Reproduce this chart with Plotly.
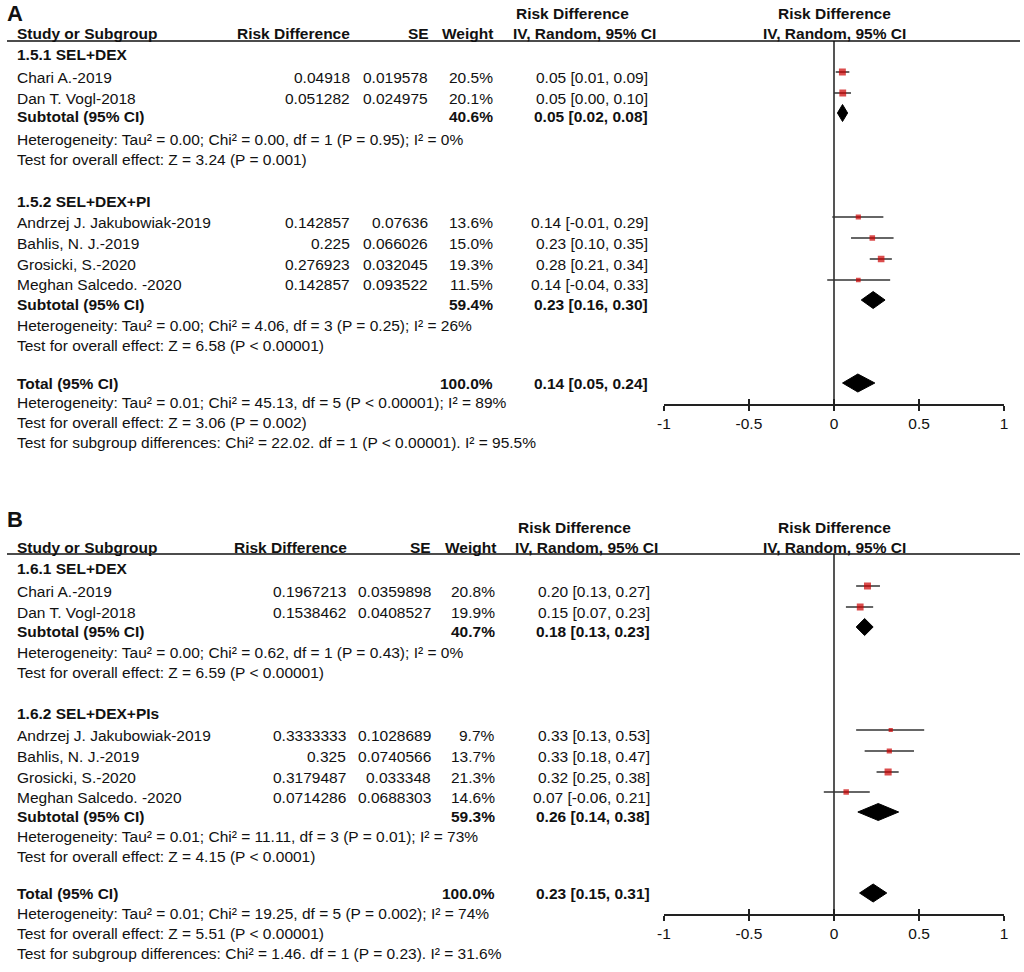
import plotly.graph_objects as go

W, H = 1024, 972
FONT = "Liberation Sans, Arial, sans-serif"
FS = 15.5
TXT = "#111111"
RED = "#cc0000"
WHISK = "#333333"

# ---------------- Panel A data ----------------
A_label = "A"
A_groups = ["1.5.1 SEL+DEX", "1.5.2 SEL+DEX+PI"]
A_group_n = [2, 4]
A_studies = ["Chari A.-2019", "Dan T. Vogl-2018", "Andrzej J. Jakubowiak-2019",
             "Bahlis, N. J.-2019", "Grosicki, S.-2020", "Meghan Salcedo. -2020"]
A_rd = [0.04918, 0.051282, 0.142857, 0.225, 0.276923, 0.142857]
A_se = [0.019578, 0.024975, 0.07636, 0.066026, 0.032045, 0.093522]
A_weight = [20.5, 20.1, 13.6, 15.0, 19.3, 11.5]
A_est = [0.05, 0.05, 0.14, 0.23, 0.28, 0.14]
A_lo = [0.01, 0.00, -0.01, 0.10, 0.21, -0.04]
A_hi = [0.09, 0.10, 0.29, 0.35, 0.34, 0.33]
A_sub_weight = [40.6, 59.4]
A_sub_est = [0.05, 0.23]
A_sub_lo = [0.02, 0.16]
A_sub_hi = [0.08, 0.30]
A_sub_het = ["Heterogeneity: Tau² = 0.00; Chi² = 0.00, df = 1 (P = 0.95); I² = 0%",
             "Heterogeneity: Tau² = 0.00; Chi² = 4.06, df = 3 (P = 0.25); I² = 26%"]
A_sub_z = ["Test for overall effect: Z = 3.24 (P = 0.001)",
           "Test for overall effect: Z = 6.58 (P &lt; 0.00001)"]
A_tot_weight = 100.0
A_tot = [0.14, 0.05, 0.24]
A_tot_het = "Heterogeneity: Tau² = 0.01; Chi² = 45.13, df = 5 (P &lt; 0.00001); I² = 89%"
A_tot_z = "Test for overall effect: Z = 3.06 (P = 0.002)"
A_subgroup = "Test for subgroup differences: Chi² = 22.02. df = 1 (P &lt; 0.00001). I² = 95.5%"

# ---------------- Panel B data ----------------
B_label = "B"
B_groups = ["1.6.1 SEL+DEX", "1.6.2 SEL+DEX+PIs"]
B_group_n = [2, 4]
B_studies = ["Chari A.-2019", "Dan T. Vogl-2018", "Andrzej J. Jakubowiak-2019",
             "Bahlis, N. J.-2019", "Grosicki, S.-2020", "Meghan Salcedo. -2020"]
B_rd = [0.1967213, 0.1538462, 0.3333333, 0.325, 0.3179487, 0.0714286]
B_se = [0.0359898, 0.0408527, 0.1028689, 0.0740566, 0.033348, 0.0688303]
B_weight = [20.8, 19.9, 9.7, 13.7, 21.3, 14.6]
B_est = [0.20, 0.15, 0.33, 0.33, 0.32, 0.07]
B_lo = [0.13, 0.07, 0.13, 0.18, 0.25, -0.06]
B_hi = [0.27, 0.23, 0.53, 0.47, 0.38, 0.21]
B_sub_weight = [40.7, 59.3]
B_sub_est = [0.18, 0.26]
B_sub_lo = [0.13, 0.14]
B_sub_hi = [0.23, 0.38]
B_sub_het = ["Heterogeneity: Tau² = 0.00; Chi² = 0.62, df = 1 (P = 0.43); I² = 0%",
             "Heterogeneity: Tau² = 0.01; Chi² = 11.11, df = 3 (P = 0.01); I² = 73%"]
B_sub_z = ["Test for overall effect: Z = 6.59 (P &lt; 0.00001)",
           "Test for overall effect: Z = 4.15 (P &lt; 0.0001)"]
B_tot_weight = 100.0
B_tot = [0.23, 0.15, 0.31]
B_tot_het = "Heterogeneity: Tau² = 0.01; Chi² = 19.25, df = 5 (P = 0.002); I² = 74%"
B_tot_z = "Test for overall effect: Z = 5.51 (P &lt; 0.00001)"
B_subgroup = "Test for subgroup differences: Chi² = 1.46. df = 1 (P = 0.23). I² = 31.6%"

# axis ticks
tick_vals = [-1, -0.5, 0, 0.5, 1]
tick_text = ["-1", "-0.5", "0", "0.5", "1"]

# header texts
hdr_cols = ["Study or Subgroup", "Risk Difference", "SE", "Weight", "IV, Random, 95% CI"]
hdr_top = "Risk Difference"

# ---------------- layout (pixel positions) ----------------
A_pos = dict(letter=(0, 13), hdr1_y=13, hdr2_y=33, rule_y=41, axis_y=404,
             name_x=10, rd_x=347, se_x=426, w_x=491, ci_x=648, hdr1_x=515, hdr2_x=511,
             hdr_rd_x=347, hdr_se_x=427, hdr_w_x=491, forest_c=836,
             group_y=[55, 201], study_y=[77, 98, 222, 243, 264, 285],
             sub_y=[117, 304], het_y=[139, 325], z_y=[159, 345],
             tot_y=383, tot_het_y=403, tot_z_y=423, subgroup_y=443)
B_pos = dict(letter=(0, 519), hdr1_y=527, hdr2_y=547, rule_y=554, axis_y=914,
             name_x=10, rd_x=343, se_x=429, w_x=493, ci_x=650, hdr1_x=517, hdr2_x=514,
             hdr_rd_x=344, hdr_se_x=429, hdr_w_x=494, forest_c=836,
             group_y=[568, 713], study_y=[591, 612, 735, 756, 777, 797],
             sub_y=[631, 816], het_y=[652, 836], z_y=[672, 856],
             tot_y=893, tot_het_y=913, tot_z_y=933, subgroup_y=953)

FX0, FX1 = 664, 1008   # pixel positions of -1 and 1

fig = go.Figure()


def tx(x, y, s, anchor="left", bold=False, size=FS):
    fig.add_annotation(x=x / W, y=1 - y / H, xref="paper", yref="paper",
                       text=f"<b>{s}</b>" if bold else s, showarrow=False,
                       xanchor=anchor, yanchor="middle", borderpad=0, borderwidth=0,
                       font=dict(family=FONT, size=size, color=TXT))


def ci_str(e, l, h):
    return f"{e:.2f} [{l:.2f}, {h:.2f}]"


def panel(P, label, groups, group_n, studies, rd, se, wt, est, lo, hi,
          sw, se_, sl, sh, shet, sz, tw, tot, thet, tz, tsub, xa, ya):
    # panel letter
    tx(P["letter"][0], P["letter"][1], label, bold=True, size=22)
    # headers
    tx(P["hdr1_x"], P["hdr1_y"], hdr_top, bold=True)
    tx(P["forest_c"], P["hdr1_y"], hdr_top, anchor="center", bold=True)
    tx(P["name_x"], P["hdr2_y"], hdr_cols[0], bold=True)
    tx(P["hdr_rd_x"], P["hdr2_y"], hdr_cols[1], anchor="right", bold=True)
    tx(P["hdr_se_x"], P["hdr2_y"], hdr_cols[2], anchor="right", bold=True)
    tx(P["hdr_w_x"], P["hdr2_y"], hdr_cols[3], anchor="right", bold=True)
    tx(P["hdr2_x"], P["hdr2_y"], hdr_cols[4], bold=True)
    tx(P["forest_c"], P["hdr2_y"], hdr_cols[4], anchor="center", bold=True)
    fig.add_shape(type="line", xref="paper", yref="paper", x0=0, x1=1,
                  y0=1 - P["rule_y"] / H, y1=1 - P["rule_y"] / H,
                  line=dict(color="#111111", width=1.5))

    # study rows
    k = 0
    wy, wx, my, ms = [], [], [], []
    dx, dy = [], []
    for g, n in enumerate(group_n):
        tx(P["name_x"], P["group_y"][g], groups[g], bold=True)
        for j in range(n):
            y = P["study_y"][k]
            tx(P["name_x"], y, studies[k])
            tx(P["rd_x"], y, str(rd[k]), anchor="right")
            tx(P["se_x"], y, str(se[k]), anchor="right")
            tx(P["w_x"], y, f"{wt[k]:.1f}%", anchor="right")
            tx(P["ci_x"], y, ci_str(est[k], lo[k], hi[k]), anchor="right")
            yy = y - 5
            wx += [lo[k], hi[k], None]
            wy += [yy, yy, None]
            my.append(yy)
            ms.append(1.8 + 0.25 * wt[k])
            k += 1
        ys = P["sub_y"][g]
        tx(P["name_x"], ys, "Subtotal (95% CI)", bold=True)
        tx(P["w_x"], ys, f"{sw[g]:.1f}%", anchor="right", bold=True)
        tx(P["ci_x"], ys, ci_str(se_[g], sl[g], sh[g]), anchor="right", bold=True)
        tx(P["name_x"], P["het_y"][g], shet[g])
        tx(P["name_x"], P["z_y"][g], sz[g])
        yc = ys - 4
        dx += [sl[g], se_[g], sh[g], se_[g], sl[g], None]
        dy += [yc, yc - 8.5, yc, yc + 8.5, yc, None]

    # total
    yt = P["tot_y"]
    tx(P["name_x"], yt, "Total (95% CI)", bold=True)
    tx(P["w_x"], yt, f"{tw:.1f}%", anchor="right", bold=True)
    tx(P["ci_x"], yt, ci_str(*tot), anchor="right", bold=True)
    tx(P["name_x"], P["tot_het_y"], thet)
    tx(P["name_x"], P["tot_z_y"], tz)
    tx(P["name_x"], P["subgroup_y"], tsub)
    dx += [tot[1], tot[0], tot[2], tot[0], tot[1], None]
    dy += [yt, yt - 9, yt, yt + 9, yt, None]

    fig.add_trace(go.Scatter(x=wx, y=wy, mode="lines", xaxis=xa, yaxis=ya,
                             line=dict(color=WHISK, width=1.5), hoverinfo="skip",
                             showlegend=False))
    fig.add_trace(go.Scatter(x=rd, y=my, mode="markers", xaxis=xa, yaxis=ya,
                             marker=dict(symbol="square", color=RED, size=ms,
                                         line=dict(width=0)),
                             showlegend=False))
    fig.add_trace(go.Scatter(x=dx, y=dy, mode="lines", fill="toself", xaxis=xa, yaxis=ya,
                             fillcolor="#000000", line=dict(color="#000000", width=1),
                             showlegend=False, hoverinfo="skip"))


panel(A_pos, A_label, A_groups, A_group_n, A_studies, A_rd, A_se, A_weight, A_est, A_lo, A_hi,
      A_sub_weight, A_sub_est, A_sub_lo, A_sub_hi, A_sub_het, A_sub_z,
      A_tot_weight, A_tot, A_tot_het, A_tot_z, A_subgroup, "x", "y")
panel(B_pos, B_label, B_groups, B_group_n, B_studies, B_rd, B_se, B_weight, B_est, B_lo, B_hi,
      B_sub_weight, B_sub_est, B_sub_lo, B_sub_hi, B_sub_het, B_sub_z,
      B_tot_weight, B_tot, B_tot_het, B_tot_z, B_subgroup, "x2", "y2")

# invisible traces to carry the overlay (inside) tick axes
fig.add_trace(go.Scatter(x=[None], y=[None], xaxis="x3", yaxis="y", showlegend=False))
fig.add_trace(go.Scatter(x=[None], y=[None], xaxis="x4", yaxis="y2", showlegend=False))

xdom = [FX0 / W, FX1 / W]
xa_common = dict(domain=xdom, range=[-1, 1], showgrid=False, zeroline=True,
                 zerolinecolor="#555555", zerolinewidth=1.5,
                 showline=True, linecolor="#222222", linewidth=1.5,
                 ticks="outside", ticklen=5, tickwidth=1.5, tickcolor="#222222",
                 tickvals=tick_vals, ticktext=tick_text,
                 tickfont=dict(family=FONT, size=FS, color=TXT), fixedrange=True)
xa_over = dict(domain=xdom, range=[-1, 1], showgrid=False, zeroline=False,
               showline=False, ticks="inside", ticklen=5, tickwidth=1.5,
               tickcolor="#222222", tickvals=tick_vals, showticklabels=False,
               fixedrange=True)


def ydom(P):
    return [1 - P["axis_y"] / H, 1 - P["rule_y"] / H]


fig.update_layout(
    width=W, height=H, margin=dict(l=0, r=0, t=0, b=0),
    paper_bgcolor="white", plot_bgcolor="rgba(0,0,0,0)",
    showlegend=False, hovermode=False,
    xaxis=dict(anchor="y", **xa_common),
    xaxis2=dict(anchor="y2", **xa_common),
    xaxis3=dict(anchor="y", overlaying="x", **xa_over),
    xaxis4=dict(anchor="y2", overlaying="x2", **xa_over),
    yaxis=dict(domain=ydom(A_pos), range=[A_pos["axis_y"], A_pos["rule_y"]], visible=False,
               fixedrange=True),
    yaxis2=dict(domain=ydom(B_pos), range=[B_pos["axis_y"], B_pos["rule_y"]], visible=False,
                fixedrange=True),
)

fig.write_html("out.html", config={"displayModeBar": False},
               post_script="document.body.style.margin='0px';")
